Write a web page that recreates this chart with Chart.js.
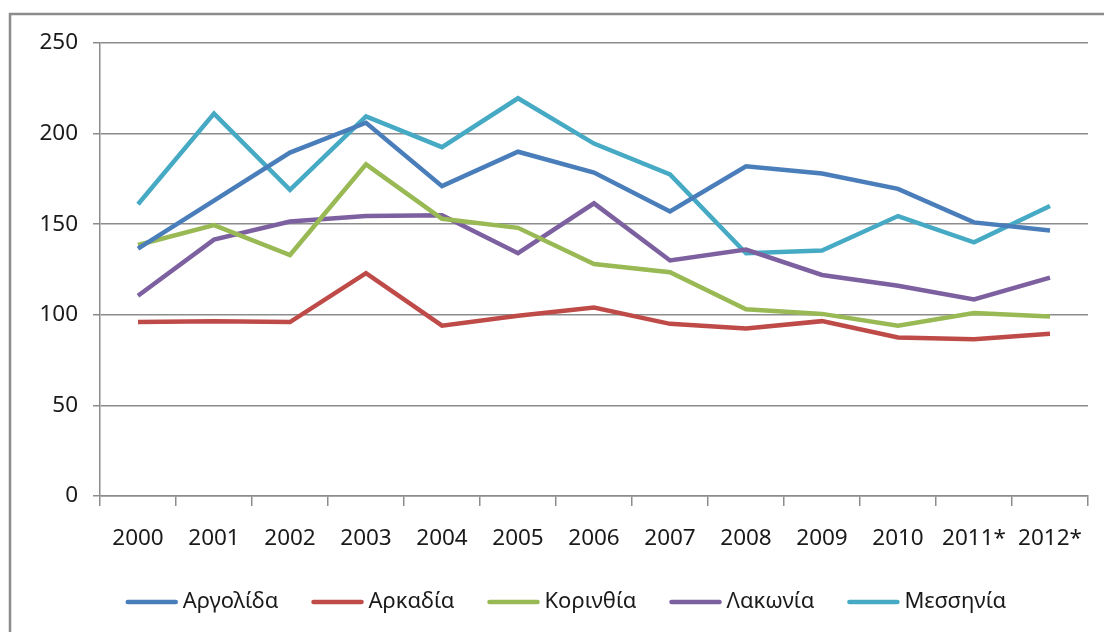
<!DOCTYPE html>
<html>
<head>
<meta charset="utf-8">
<script src="https://cdn.jsdelivr.net/npm/chart.js@4/dist/chart.umd.min.js"></script>
<style>
html,body{margin:0;padding:0;background:#fff;overflow:hidden;}
#wrap{position:absolute;left:0;top:0;width:1104px;height:632px;}
</style>
</head>
<body>
<div id="wrap"><canvas id="c" width="1104" height="632"></canvas></div>
<script>
const categories = ['2000','2001','2002','2003','2004','2005','2006','2007','2008','2009','2010','2011*','2012*'];
const argolida  = [136.5, 163, 189.5, 206, 171, 190, 178.5, 157, 182, 178, 169.5, 151, 146.5];
const arkadia   = [96, 96.5, 96, 123, 94, 99.5, 104, 95, 92.5, 96.5, 87.5, 86.5, 89.5];
const korinthia = [138.5, 149.5, 133, 183, 153, 148, 128, 123.5, 103, 100.5, 94, 101, 99];
const lakonia   = [110.5, 141.5, 151.5, 154.5, 155, 134, 161.5, 130, 136, 122, 116, 108.5, 120.5];
const messinia  = [161, 211, 169, 209.5, 192.5, 219.5, 194.5, 177.5, 134, 135.5, 154.5, 140, 160];
const seriesNames = ['Αργολίδα','Αρκαδία','Κορινθία','Λακωνία','Μεσσηνία'];
const yTicks = [0, 50, 100, 150, 200, 250];

const colors = ['#4A7EBB','#BE4B48','#98B954','#7D60A0','#46AAC5'];
const seriesData = [argolida, arkadia, korinthia, lakonia, messinia];
const FONT = "'Noto Sans', 'Open Sans', sans-serif";

const framePlugin = {
  id: 'frame',
  beforeDraw(chart) {
    const ctx = chart.ctx;
    ctx.save();
    ctx.strokeStyle = '#8c8c8c';
    ctx.lineWidth = 2.5;
    ctx.beginPath();
    ctx.moveTo(10, 640);
    ctx.lineTo(10, 14);
    ctx.lineTo(1110, 14);
    ctx.stroke();
    ctx.restore();
  }
};

// Legend drawn from the chart's datasets (line sample + label)
const legendPlugin = {
  id: 'customLegend',
  afterDraw(chart) {
    const ctx = chart.ctx;
    const lineLen = 52, textGap = 5, itemGap = 33, yMid = 602, centerX = 566;
    ctx.save();
    ctx.font = "22px " + FONT;
    const items = chart.data.datasets.map(ds => ({
      text: ds.label, color: ds.borderColor, w: ctx.measureText(ds.label).width
    }));
    let total = items.reduce((s, it) => s + lineLen + textGap + it.w, 0) + itemGap * (items.length - 1);
    let x = centerX - total / 2;
    items.forEach(it => {
      ctx.strokeStyle = it.color;
      ctx.lineWidth = 4.5;
      ctx.lineCap = 'round';
      ctx.beginPath();
      ctx.moveTo(x + 2, yMid);
      ctx.lineTo(x + lineLen - 2, yMid);
      ctx.stroke();
      ctx.fillStyle = '#1a1a1a';
      ctx.textBaseline = 'middle';
      ctx.textAlign = 'left';
      ctx.fillText(it.text, x + lineLen + textGap, yMid);
      x += lineLen + textGap + it.w + itemGap;
    });
    ctx.restore();
  }
};

new Chart(document.getElementById('c'), {
  type: 'line',
  data: {
    labels: categories,
    datasets: seriesData.map((d, i) => ({
      label: seriesNames[i],
      data: d,
      borderColor: colors[i],
      backgroundColor: colors[i],
      borderWidth: 4.5,
      pointRadius: 0,
      pointHoverRadius: 0,
      tension: 0,
      fill: false
    }))
  },
  options: {
    responsive: false,
    animation: false,
    events: [],
    layout: { padding: { left: 0, right: 16, top: 43, bottom: 0 } },
    plugins: {
      tooltip: { enabled: false },
      legend: { display: false }
    },
    scales: {
      x: {
        type: 'category',
        offset: true,
        afterFit(scale) { scale.height = 136; },
        grid: {
          offset: true,
          drawOnChartArea: false,
          drawTicks: true,
          tickLength: 10,
          color: '#8c8c8c',
          lineWidth: 1.5
        },
        border: { color: '#8c8c8c', width: 1.5 },
        ticks: {
          color: '#1a1a1a',
          font: { family: FONT, size: 22.5 },
          padding: 19,
          maxRotation: 0,
          autoSkip: false
        }
      },
      y: {
        min: 0,
        max: 250,
        afterFit(scale) { scale.width = 100; },
        afterBuildTicks(scale) { scale.ticks = yTicks.map(v => ({ value: v })); },
        grid: {
          color: '#8c8c8c',
          lineWidth: 1.5,
          drawTicks: true,
          tickLength: 7
        },
        border: { color: '#8c8c8c', width: 1.5 },
        ticks: {
          color: '#1a1a1a',
          font: { family: FONT, size: 22.5 },
          padding: 15
        }
      }
    }
  },
  plugins: [framePlugin, legendPlugin]
});
</script>
</body>
</html>
